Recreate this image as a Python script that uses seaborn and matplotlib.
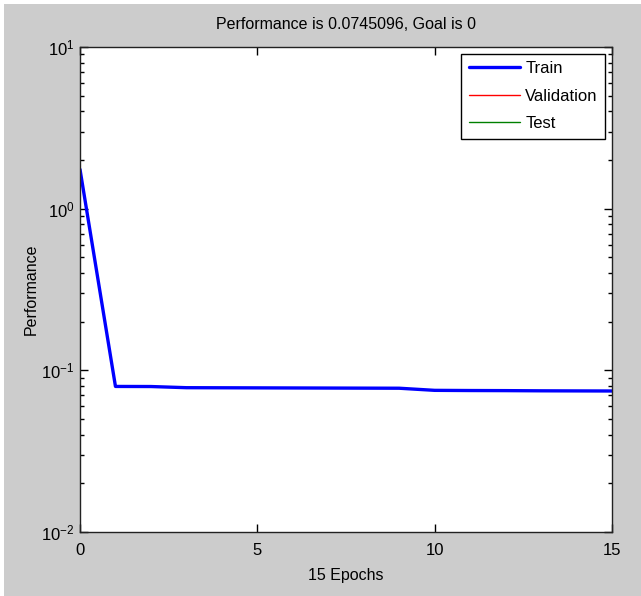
import numpy as np
import pandas as pd
import matplotlib
matplotlib.use("Agg")
import matplotlib.pyplot as plt
import matplotlib.ticker as mticker
from matplotlib.patches import Rectangle
import seaborn as sns

sns.set_style("ticks")
plt.rcParams['font.family'] = ['Liberation Sans', 'DejaVu Sans']
plt.rcParams['text.color'] = 'black'
plt.rcParams['axes.labelcolor'] = 'black'

# data
epochs = list(range(16))
train_perf = [1.75, 0.0795, 0.0794, 0.0781, 0.0780, 0.0779, 0.0778, 0.0777,
              0.0776, 0.0775, 0.0752, 0.0750, 0.0749, 0.0747, 0.0746, 0.0745096]
series_names = ["Train", "Validation", "Test"]
series_colors = ["#0000ff", "#ff0000", "#008000"]

df = pd.DataFrame({"Epoch": epochs, "Performance": train_perf})

fig = plt.figure(figsize=(6.41, 5.96), dpi=100)
fig.patch.set_facecolor("white")
fig.patches.append(Rectangle((4 / 641, 0), 1 - 4 / 641, 1 - 4 / 596,
                             transform=fig.transFigure, facecolor="#cccccc",
                             edgecolor="none", zorder=-10))
ax = fig.add_axes([80 / 641, 1 - 532 / 596, 532 / 641, 485 / 596])
ax.set_facecolor("white")

sns.lineplot(data=df, x="Epoch", y="Performance", ax=ax, color=series_colors[0],
             linewidth=2.4, label=series_names[0])
# validation and test have no visible data
ax.plot([], [], color=series_colors[1], linewidth=1, label=series_names[1])
ax.plot([], [], color=series_colors[2], linewidth=1, label=series_names[2])

ax.set_yscale("log")
ax.set_xlim(0, 15)
ax.set_ylim(1e-2, 1e1)
ax.set_xticks([0, 5, 10, 15])
ax.yaxis.set_major_locator(mticker.LogLocator(base=10, numticks=10))
ax.yaxis.set_minor_locator(mticker.LogLocator(base=10, subs=np.arange(2, 10), numticks=10))
ax.yaxis.set_minor_formatter(mticker.NullFormatter())

ax.tick_params(axis="both", which="both", direction="in", top=True, right=True,
               left=True, bottom=True, labelsize=12, colors="black")
ax.tick_params(axis="x", pad=8)
ax.tick_params(axis="y", pad=4)
ax.tick_params(which="major", length=6, width=1)
ax.tick_params(which="minor", length=3, width=1)
for sp in ax.spines.values():
    sp.set_color("#222222")
    sp.set_linewidth(1)

ax.set_title("Performance is 0.0745096, Goal is 0", fontsize=11.5, pad=13)
ax.set_xlabel("15 Epochs", fontsize=11.5, labelpad=7)
ax.set_ylabel("Performance", fontsize=11.5, labelpad=2)

leg = ax.legend(loc="upper right", fontsize=12, frameon=True, fancybox=False,
                borderaxespad=0.4, handlelength=3.1, handletextpad=0.3,
                labelspacing=0.75, borderpad=0.45)
leg.get_frame().set_edgecolor("black")
leg.get_frame().set_linewidth(1)
leg.get_frame().set_alpha(1)

fig.savefig("out.png", dpi=100, facecolor=fig.get_facecolor())
